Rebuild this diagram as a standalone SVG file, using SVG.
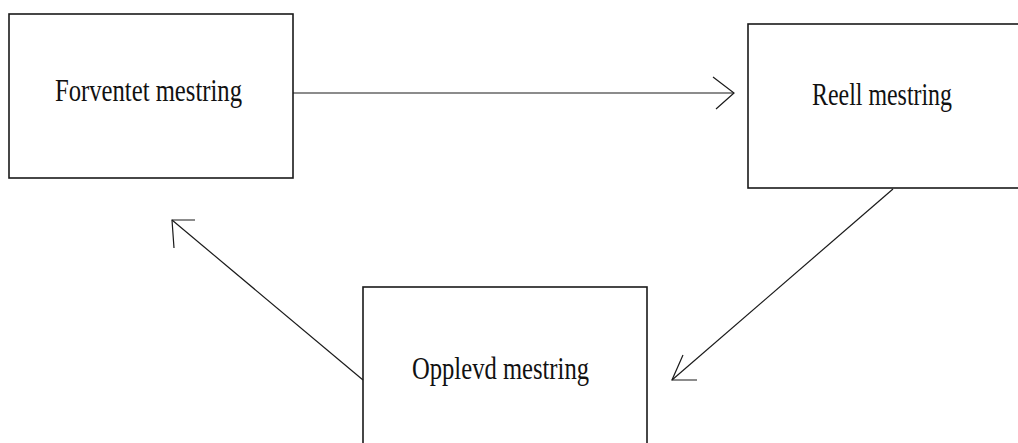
<svg xmlns="http://www.w3.org/2000/svg" width="1018" height="443" viewBox="0 0 1018 443">
  <style>
    .box { fill: #ffffff; stroke: #1a1a1a; stroke-width: 1.6; }
    .label { font-family: "Liberation Serif", "Times New Roman", serif; font-size: 31px; fill: #111111; }
    .edge { fill: none; stroke: #1a1a1a; stroke-width: 1.2; }
  </style>
  <rect x="0" y="0" width="1018" height="443" fill="#ffffff"/>

  <g id="node-forventet">
    <rect class="box" x="9" y="14" width="284" height="164"/>
    <text class="label" x="55" y="101" textLength="187" lengthAdjust="spacingAndGlyphs">Forventet mestring</text>
  </g>

  <g id="node-reell">
    <rect class="box" x="748" y="24" width="280" height="164"/>
    <text class="label" x="812" y="105" textLength="140" lengthAdjust="spacingAndGlyphs">Reell mestring</text>
  </g>

  <g id="node-opplevd">
    <rect class="box" x="363" y="287" width="284" height="170"/>
    <text class="label" x="412" y="379" textLength="177" lengthAdjust="spacingAndGlyphs">Opplevd mestring</text>
  </g>

  <g id="connectors">
    <!-- Forventet -> Reell -->
    <line class="edge" x1="293" y1="93" x2="734" y2="93"/>
    <path class="edge" d="M713 77 L734 93 L716 109"/>
    <!-- Reell -> Opplevd -->
    <line class="edge" x1="893" y1="189" x2="672" y2="380"/>
    <path class="edge" d="M683 355 L672 380 L697 380"/>
    <!-- Opplevd -> Forventet -->
    <line class="edge" x1="363" y1="380" x2="172" y2="220"/>
    <path class="edge" d="M195 220 L172 220 L174 248"/>
  </g>
</svg>
